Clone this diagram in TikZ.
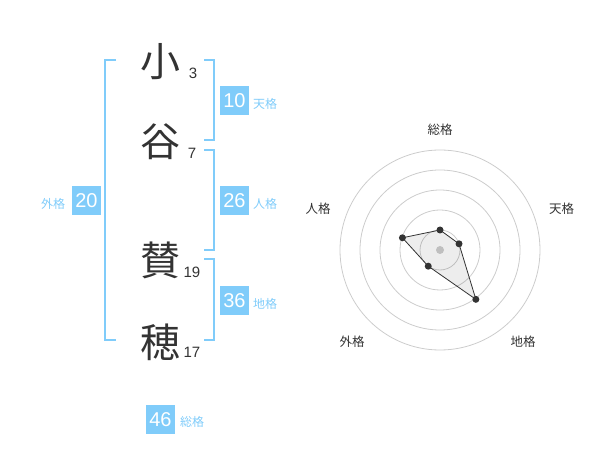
\documentclass[tikz,border=0pt]{standalone}
\usepackage{fontspec}
\setmainfont{Liberation Sans}
\newfontfamily\jpfont{Noto Sans CJK JP}
\definecolor{kakublue}{RGB}{128,204,250}
\definecolor{sumi}{RGB}{51,51,51}
\definecolor{wagray}{RGB}{204,204,204}

\begin{document}
\begin{tikzpicture}[x=1pt,y=-1pt,
  moji/.style={font=\jpfont\fontsize{40}{40}\selectfont, text=sumi, inner sep=0pt},
  kazu/.style={font=\fontsize{15}{15}\selectfont, text=sumi, inner sep=0pt},
  hako/.style={fill=kakublue, text=white, minimum size=29pt, inner sep=0pt,
    font=\fontsize{20}{20}\selectfont},
  mei/.style={font=\jpfont\fontsize{12}{12}\selectfont, text=kakublue, inner sep=0pt},
  jiku/.style={font=\jpfont\fontsize{12.5}{12.5}\selectfont, text=sumi, inner sep=0pt},
  kakko/.style={draw=kakublue, line width=2pt}]
\useasboundingbox (0,0) rectangle (600,470);

% name
\node[moji] (ko) at (160,62) {小};
\node[moji] (tani) at (160,142) {谷};
\node[moji] (san) at (160,260) {賛};
\node[moji] (ho) at (160,342) {穂};
\node[kazu] (k1) at (193,73) {3};
\node[kazu] (k2) at (192,153) {7};
\node[kazu] (k3) at (192,272) {19};
\node[kazu] (k4) at (192,352) {17};

% brackets
\draw[kakko] (116,60) -- (105,60) -- (105,340) -- (116,340);
\draw[kakko] (204,60) -- (214,60) -- (214,140) -- (204,140);
\draw[kakko] (204,150) -- (214,150) -- (214,250) -- (204,250);
\draw[kakko] (204,259) -- (214,259) -- (214,340) -- (204,340);

\node[hako] (ten) at (234.5,100.5) {10};
\node[mei, right] (tenl) at (253,104) {天格};
\node[hako] (jin) at (234.5,200.5) {26};
\node[mei, right] (jinl) at (253,204) {人格};
\node[hako] (chi) at (234.5,300.5) {36};
\node[mei, right] (chil) at (253,304) {地格};
\node[hako] (gai) at (86.5,200.5) {20};
\node[mei] (gail) at (53,204) {外格};
\node[hako] (sou) at (160.5,419.5) {46};
\node[mei, right] (soul) at (180,422) {総格};

% radar (y runs downwards, so angles are negated)
\foreach \r in {20,40,60,80,100}
  \draw[wagray, line width=0.8pt] (440,250) circle (\r);
\coordinate (p1) at ([shift={(-90:20)}]440,250);
\coordinate (p2) at ([shift={(-18:20)}]440,250);
\coordinate (p3) at ([shift={(54:61)}]440,250);
\coordinate (p4) at ([shift={(126:20)}]440,250);
\coordinate (p5) at ([shift={(-162:39.5)}]440,250);
\draw[black!80, fill=black, fill opacity=0.07, line width=0.8pt]
  (p1) -- (p2) -- (p3) -- (p4) -- (p5) -- cycle;
\fill[black!25] (440,250) circle (4);
\foreach \p in {p1,p2,p3,p4,p5}
  \fill[sumi] (\p) circle (3.5);
\node[jiku] (a1) at (440,130) {総格};
\node[jiku] (a2) at (561.5,208.5) {天格};
\node[jiku] (a3) at (523,342) {地格};
\node[jiku] (a4) at (352,342) {外格};
\node[jiku] (a5) at (318,208.5) {人格};
\end{tikzpicture}
\end{document}
